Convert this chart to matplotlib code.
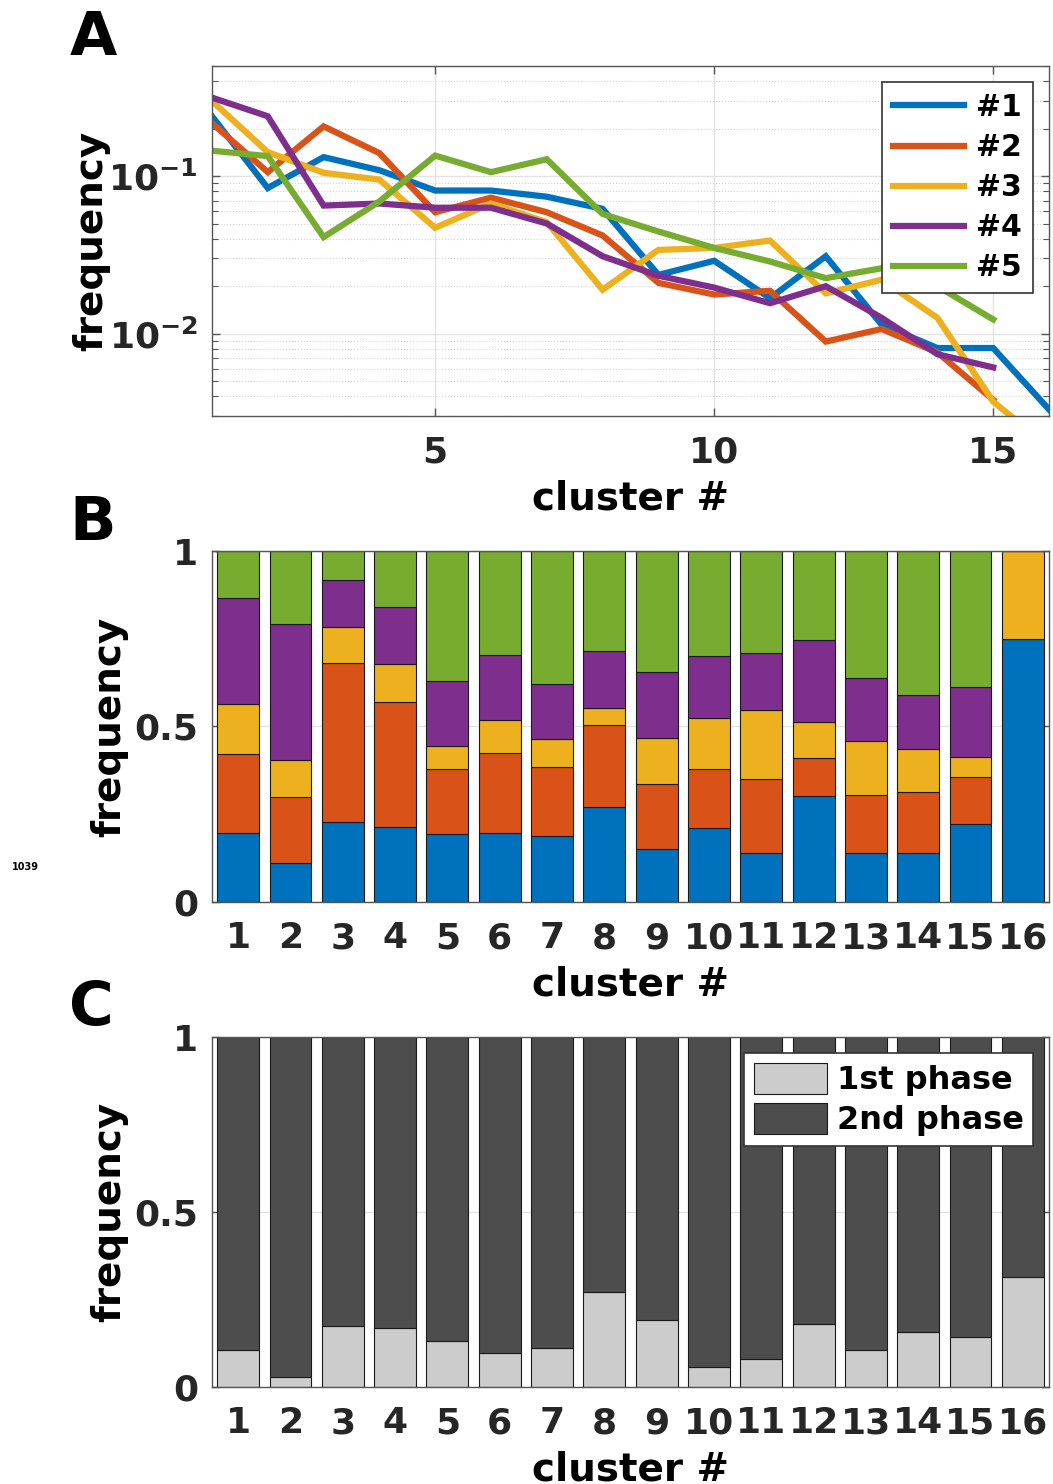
import numpy as np
import matplotlib
matplotlib.use("Agg")
import matplotlib.pyplot as plt
from matplotlib.ticker import FixedLocator, LogLocator, FuncFormatter, NullFormatter

# cluster frequency per recording (#1..#5), log scale
clusters = np.arange(1, 17)
freq_1 = [0.24, 0.084, 0.132, 0.109, 0.081, 0.081, 0.074, 0.062, 0.0236, 0.029, 0.0168, 0.031, 0.0114, 0.0081, 0.0081, 0.0033]
freq_2 = [0.217, 0.106, 0.207, 0.140, 0.059, 0.073, 0.059, 0.042, 0.021, 0.0177, 0.0187, 0.0089, 0.0107, 0.0076, 0.0038]
freq_3 = [0.30, 0.142, 0.105, 0.095, 0.047, 0.067, 0.051, 0.019, 0.034, 0.035, 0.039, 0.018, 0.022, 0.0126, 0.0037, 0.0019]
freq_4 = [0.315, 0.24, 0.065, 0.067, 0.063, 0.063, 0.050, 0.031, 0.0233, 0.0196, 0.0156, 0.020, 0.0126, 0.0074, 0.0061]
freq_5 = [0.145, 0.134, 0.041, 0.069, 0.135, 0.106, 0.128, 0.0575, 0.0445, 0.035, 0.0287, 0.0225, 0.026, 0.020, 0.0123]
series_names = ['#1', '#2', '#3', '#4', '#5']

# share of each recording within a cluster (stacked)
share_1 = [.196, .112, .227, .215, .195, .196, .188, .270, .152, .211, .139, .301, .139, .139, .221, .749]
share_2 = [.225, .186, .455, .354, .185, .228, .198, .233, .183, .167, .211, .110, .166, .174, .134, 0.0]
share_3 = [.143, .107, .102, .109, .065, .095, .078, .050, .131, .147, .197, .102, .153, .124, .058, .251]
share_4 = [.303, .387, .133, .162, .185, .184, .157, .161, .190, .176, .161, .233, .181, .153, .200, 0.0]
share_5 = [.133, .208, .083, .160, .370, .297, .379, .286, .344, .299, .292, .254, .361, .410, .387, 0.0]

# phase split per cluster
phase_1 = [0.105, 0.029, 0.174, 0.169, 0.130, 0.097, 0.111, 0.271, 0.190, 0.057, 0.080, 0.179, 0.107, 0.157, 0.142, 0.313]
phase_names = ['1st phase', '2nd phase']

colors = ['#0072BD', '#D95319', '#EDB120', '#7E2F8E', '#77AC30']

plt.rcParams['font.family'] = ['DejaVu Sans']
plt.rcParams['font.weight'] = 'bold'
plt.rcParams['axes.labelweight'] = 'bold'
plt.rcParams['mathtext.default'] = 'bf'

TICK = 26
LAB = 28
SPINE = '#555555'

fig = plt.figure(figsize=(10.53, 14.84), dpi=100)
axA = fig.add_axes([0.2013, 0.7197, 0.7949, 0.2358])
axB = fig.add_axes([0.2013, 0.3922, 0.7949, 0.2365])
axC = fig.add_axes([0.2013, 0.0654, 0.7949, 0.2358])


def style(ax):
    for s in ax.spines.values():
        s.set_color(SPINE)
        s.set_linewidth(1.0)
    ax.tick_params(which='both', direction='in', top=True, right=True, colors=SPINE,
                   labelcolor='#262626', labelsize=TICK)
    ax.tick_params(which='major', length=6, width=1)
    ax.tick_params(which='minor', length=4, width=0.8)
    ax.tick_params(axis='x', pad=14)
    ax.tick_params(axis='y', pad=10)
    ax.set_axisbelow(True)


# --- A: line plot on log axis
lists = [freq_1, freq_2, freq_3, freq_4, freq_5]
for vals, c, name in zip(lists, colors, series_names):
    axA.plot(clusters[:len(vals)], vals, color=c, lw=4.5, label=name, solid_joinstyle='miter')
axA.set_yscale('log')
axA.set_xlim(1, 16)
axA.set_ylim(0.003, 0.5)
axA.xaxis.set_major_locator(FixedLocator([5, 10, 15]))
axA.yaxis.set_major_locator(FixedLocator([0.01, 0.1]))
axA.yaxis.set_major_formatter(FuncFormatter(lambda v, p: r'$10^{%d}$' % round(np.log10(v))))
axA.yaxis.set_minor_locator(LogLocator(base=10, subs=np.arange(2, 10)))
axA.yaxis.set_minor_formatter(NullFormatter())
axA.grid(which='major', color='#e3e3e3', lw=1.0)
axA.grid(which='minor', axis='y', color='#d5d5d5', lw=0.8, ls=':')
style(axA)
axA.set_xlabel('cluster #', fontsize=LAB, labelpad=7)
axA.set_ylabel('frequency', fontsize=LAB)
axA.yaxis.set_label_coords(-0.122, 0.5)
leg = axA.legend(loc='upper right', fontsize=21.5, handlelength=2.4, borderaxespad=0.55,
                 fancybox=False, edgecolor='#333333', framealpha=1, labelspacing=0.37,
                 handletextpad=0.4, borderpad=0.35)
leg.get_frame().set_linewidth(1.2)

# --- B: stacked shares
bottom = np.zeros(len(clusters))
for vals, c in zip([share_1, share_2, share_3, share_4, share_5], colors):
    axB.bar(clusters, vals, width=0.8, bottom=bottom, color=c, edgecolor='#1a1a1a', lw=0.8)
    bottom += np.array(vals)
axB.set_xlim(0.5, 16.5)
axB.set_ylim(0, 1)
axB.set_xticks(clusters)
axB.set_yticks([0, 0.5, 1])
axB.set_yticklabels(['0', '0.5', '1'])
axB.grid(color='#e3e3e3', lw=1.0)
style(axB)
axB.set_xlabel('cluster #', fontsize=LAB, labelpad=7)
axB.set_ylabel('frequency', fontsize=LAB)
axB.yaxis.set_label_coords(-0.100, 0.5)

# --- C: phase split
phase_2 = [1 - v for v in phase_1]
axC.bar(clusters, phase_1, width=0.8, color='#cccccc', edgecolor='#1a1a1a', lw=0.8, label=phase_names[0])
axC.bar(clusters, phase_2, width=0.8, bottom=phase_1, color='#4d4d4d', edgecolor='#1a1a1a', lw=0.8,
        label=phase_names[1])
axC.set_xlim(0.5, 16.5)
axC.set_ylim(0, 1)
axC.set_xticks(clusters)
axC.set_yticks([0, 0.5, 1])
axC.set_yticklabels(['0', '0.5', '1'])
axC.grid(color='#e3e3e3', lw=1.0)
style(axC)
axC.set_xlabel('cluster #', fontsize=LAB, labelpad=7)
axC.set_ylabel('frequency', fontsize=LAB)
axC.yaxis.set_label_coords(-0.100, 0.5)
legC = axC.legend(loc='upper right', fontsize=23, handlelength=2.3, handleheight=1.15,
                  borderaxespad=0.5, fancybox=False, edgecolor='#333333', framealpha=1,
                  labelspacing=0.2, handletextpad=0.3, borderpad=0.3)
legC.get_frame().set_linewidth(1.2)

# panel letters
for y, letter in [(0.963, 'A'), (0.636, 'B'), (0.309, 'C')]:
    fig.text(0.066, y, letter, fontsize=44, fontweight='bold', va='baseline', ha='left')
fig.text(0.011, 0.414, '1039', fontsize=7, fontweight='bold')

fig.savefig('out.png', dpi=100, facecolor='white')
